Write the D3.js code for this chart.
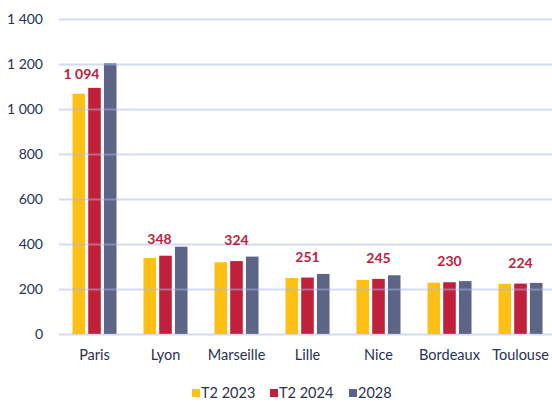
<!DOCTYPE html>
<html>
<head>
<meta charset="utf-8">
<script src="https://cdn.jsdelivr.net/npm/d3@7"></script>
<style>
  body { margin: 0; background: #fff; }
  text { font-family: Lato, "Open Sans", sans-serif; }
</style>
</head>
<body>
<script>
// data
const cities = ["Paris", "Lyon", "Marseille", "Lille", "Nice", "Bordeaux", "Toulouse"];
const seriesNames = ["T2 2023", "T2 2024", "2028"];
const t2_2023 = [1068, 338, 319, 249, 240, 228, 223];
const t2_2024 = [1094, 348, 324, 251, 245, 230, 224];
const y2028 = [1203, 388, 344, 267, 261, 235, 227];
const yTicks = [0, 200, 400, 600, 800, 1000, 1200, 1400];
// nudges for the value labels that sit next to the taller bar
const labelShiftX = [-13, -6, 0, 0, 0, 0, 0];
const labelShiftY = [7, 4, 0, 0, 0, 0, 0];

const width = 552, height = 402;
const margin = {top: 19, left: 59, bottom: 68};
const colors = ["#ffc014", "#c0203a", "#5c6585"];
const textColor = "#283052";

const svg = d3.select("body").append("svg")
  .attr("width", width)
  .attr("height", height);

const x = d3.scaleBand()
  .domain(cities)
  .range([margin.left, margin.left + 71 * cities.length])
  .paddingInner(0.38)
  .paddingOuter(0.19);

const x1 = d3.scaleBand()
  .domain(seriesNames)
  .range([0, x.bandwidth()])
  .paddingInner(0.2);

const y = d3.scaleLinear()
  .domain([0, 1400])
  .range([height - margin.bottom, margin.top]);

const fmt = v => d3.format(",")(v).replace(/,/g, " ");

const rows = cities.map((c, i) => ({
  city: c, i: i,
  vals: [t2_2023[i], t2_2024[i], y2028[i]]
}));

// bars
const groups = svg.selectAll("g.city")
  .data(rows)
  .enter().append("g")
  .attr("class", "city")
  .attr("transform", d => "translate(" + x(d.city) + ",0)");

groups.selectAll("rect")
  .data(d => d.vals.map((v, k) => ({ v: v, k: k })))
  .enter().append("rect")
  .attr("x", d => x1(seriesNames[d.k]))
  .attr("width", x1.bandwidth())
  .attr("y", d => y(d.v))
  .attr("height", d => y(0) - y(d.v))
  .attr("fill", d => colors[d.k]);

// gridlines, drawn over the bars like the original
const yAxis = d3.axisLeft(y)
  .tickValues(yTicks)
  .tickSize(-(width - margin.left))
  .tickFormat(fmt);

const ax = svg.append("g")
  .attr("transform", "translate(" + margin.left + ",0)")
  .call(yAxis);
ax.select(".domain").remove();
ax.selectAll(".tick line")
  .attr("stroke", "#a9b6e3")
  .attr("stroke-opacity", 0.5)
  .attr("stroke-width", 2);
ax.selectAll(".tick text")
  .attr("x", -16)
  .attr("fill", textColor)
  .style("font-size", "14px");

// category labels
const xAxis = d3.axisBottom(x).tickSize(0);
const bx = svg.append("g")
  .attr("transform", "translate(0," + (y(0) + 13) + ")")
  .call(xAxis);
bx.select(".domain").remove();
bx.selectAll(".tick text")
  .attr("fill", textColor)
  .style("font-size", "14.5px");

// value labels for T2 2024
svg.selectAll("text.val")
  .data(rows)
  .enter().append("text")
  .attr("class", "val")
  .attr("x", d => x(d.city) + x1("T2 2024") + x1.bandwidth() / 2 + labelShiftX[d.i])
  .attr("y", d => y(d.vals[1]) - 16 + labelShiftY[d.i])
  .attr("text-anchor", "middle")
  .attr("fill", "#c0203a")
  .style("font-size", "14px")
  .style("font-weight", "bold")
  .text(d => fmt(d.vals[1]));

// legend
const legendX = [192, 270, 349];
const legend = svg.selectAll("g.leg")
  .data(seriesNames)
  .enter().append("g")
  .attr("class", "leg")
  .attr("transform", (d, i) => "translate(" + legendX[i] + ",389)");
legend.append("rect")
  .attr("width", 8).attr("height", 8)
  .attr("fill", (d, i) => colors[i]);
legend.append("text")
  .attr("x", 9).attr("y", 9)
  .attr("fill", textColor)
  .style("font-size", "14.5px")
  .text(d => d);
</script>
</body>
</html>
